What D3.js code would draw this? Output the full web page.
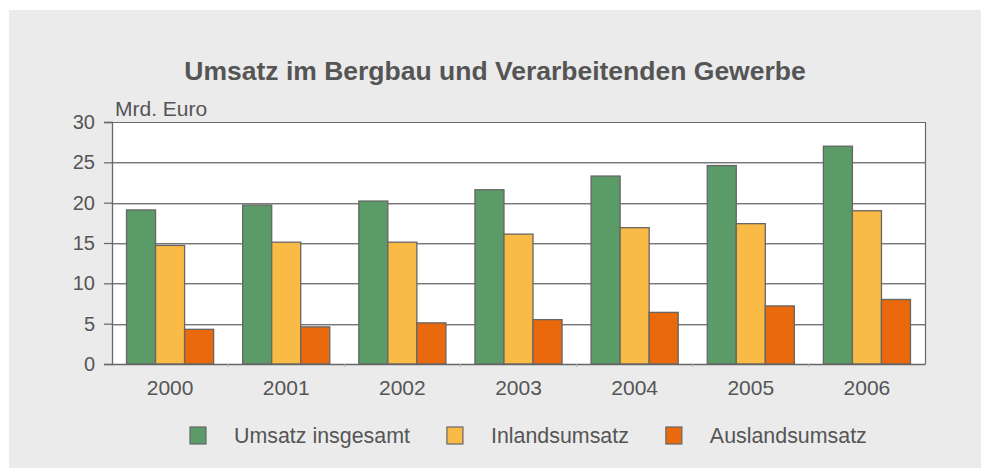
<!DOCTYPE html>
<html>
<head>
<meta charset="utf-8">
<script src="https://cdn.jsdelivr.net/npm/d3@7"></script>
<style>
  html, body { margin: 0; padding: 0; background: #ffffff; }
  svg { display: block; }
  text { font-family: "Liberation Sans", Arial, sans-serif; fill: #555555; }
</style>
</head>
<body>
<svg id="chart" width="981" height="468"></svg>
<script>
const years = ["2000", "2001", "2002", "2003", "2004", "2005", "2006"];
const seriesNames = ["Umsatz insgesamt", "Inlandsumsatz", "Auslandsumsatz"];
const umsatzInsgesamt = [19.1, 19.7, 20.2, 21.6, 23.3, 24.6, 27.0];
const inlandsumsatz   = [14.7, 15.1, 15.1, 16.1, 16.9, 17.4, 19.0];
const auslandsumsatz  = [4.3, 4.6, 5.1, 5.5, 6.4, 7.2, 8.0];
const yTicks = [0, 5, 10, 15, 20, 25, 30];
const titleText = "Umsatz im Bergbau und Verarbeitenden Gewerbe";
const unitText = "Mrd. Euro";

const colors = ["#5a9b67", "#f9bb45", "#e9690c"];
const seriesValues = [umsatzInsgesamt, inlandsumsatz, auslandsumsatz];

const svg = d3.select("#chart");

// panel background
svg.append("rect").attr("x", 9).attr("y", 10).attr("width", 972).attr("height", 458).attr("fill", "#ebebeb");

const pLeft = 112, pRight = 925, pTop = 122, pBottom = 364;

const x = d3.scaleBand().domain(years).range([pLeft, pRight]).paddingInner(0.25).paddingOuter(0.125);
const xs = d3.scaleBand().domain(d3.range(seriesNames.length)).range([0, x.bandwidth()]);
const y = d3.scaleLinear().domain([0, 30]).range([pBottom, pTop]);

// plot area
svg.append("rect").attr("x", pLeft).attr("y", pTop).attr("width", pRight - pLeft).attr("height", pBottom - pTop).attr("fill", "#ffffff");

// gridlines
const grid = svg.append("g");
yTicks.filter(t => t > 0 && t < 30).forEach(t => {
  grid.append("line").attr("x1", pLeft).attr("x2", pRight).attr("y1", Math.round(y(t)) + 1.5).attr("y2", Math.round(y(t)) + 1.5)
    .attr("stroke", "#c4c4c4").attr("stroke-width", 1);
  grid.append("line").attr("x1", pLeft).attr("x2", pRight).attr("y1", Math.round(y(t)) + 0.5).attr("y2", Math.round(y(t)) + 0.5)
    .attr("stroke", "#777777").attr("stroke-width", 1);
});

// plot border (top, right)
svg.append("path").attr("d", `M${pLeft},${pTop + 0.5}H${pRight + 0.5}V${pBottom}`)
  .attr("fill", "none").attr("stroke", "#6a6a6a").attr("stroke-width", 1.2);

// bars
const rows = [];
years.forEach((yr, i) => seriesValues.forEach((vals, s) => rows.push({ year: yr, s, v: vals[i] })));
svg.append("g").selectAll("rect").data(rows).join("rect")
  .attr("x", d => x(d.year) + xs(d.s))
  .attr("y", d => y(d.v))
  .attr("width", xs.bandwidth())
  .attr("height", d => y(0) - y(d.v))
  .attr("fill", d => colors[d.s])
  .attr("stroke", "#666666")
  .attr("stroke-width", 1.3);

// y axis
const yAxis = svg.append("g").attr("transform", `translate(${pLeft},0)`)
  .call(d3.axisLeft(y).tickValues(yTicks).tickSize(8).tickPadding(9).tickFormat(d3.format("d")));
yAxis.select(".domain").attr("stroke", "#666666").attr("stroke-width", 1.3);
yAxis.selectAll(".tick line").attr("stroke", "#666666").attr("stroke-width", 1.2);
yAxis.selectAll(".tick text").attr("font-size", 20).attr("fill", "#555555")
  .style("font-family", "'Liberation Sans', Arial, sans-serif");

// x axis
const xAxis = svg.append("g").attr("transform", `translate(0,${pBottom})`)
  .call(d3.axisBottom(x).tickSize(0).tickPadding(16));
xAxis.select(".domain").attr("stroke", "#666666").attr("stroke-width", 1.3);
xAxis.selectAll(".tick text").attr("font-size", 21).attr("fill", "#555555")
  .style("font-family", "'Liberation Sans', Arial, sans-serif");
// small separators between categories
svg.append("g").selectAll("line").data(years.slice(1)).join("line")
  .attr("x1", d => x(d) - x.step() * x.paddingInner() / 2)
  .attr("x2", d => x(d) - x.step() * x.paddingInner() / 2)
  .attr("y1", pBottom).attr("y2", pBottom + 3)
  .attr("stroke", "#bbbbbb").attr("stroke-width", 1);

// unit label
svg.append("text").attr("x", 115).attr("y", 116).attr("font-size", 21).text(unitText);

// title
svg.append("text").attr("x", 495).attr("y", 80).attr("text-anchor", "middle")
  .attr("font-size", 26.5).attr("font-weight", "bold").text(titleText);

// legend
const legend = svg.append("g");
let lx = 190;
seriesNames.forEach((name, i) => {
  legend.append("rect").attr("x", lx).attr("y", 427).attr("width", 16).attr("height", 17)
    .attr("fill", colors[i]).attr("stroke", "#666666").attr("stroke-width", 1.2);
  const t = legend.append("text").attr("x", lx + 44).attr("y", 443).attr("font-size", 21.4).text(name);
  lx = lx + 44 + t.node().getComputedTextLength() + 37;
});
</script>
</body>
</html>
